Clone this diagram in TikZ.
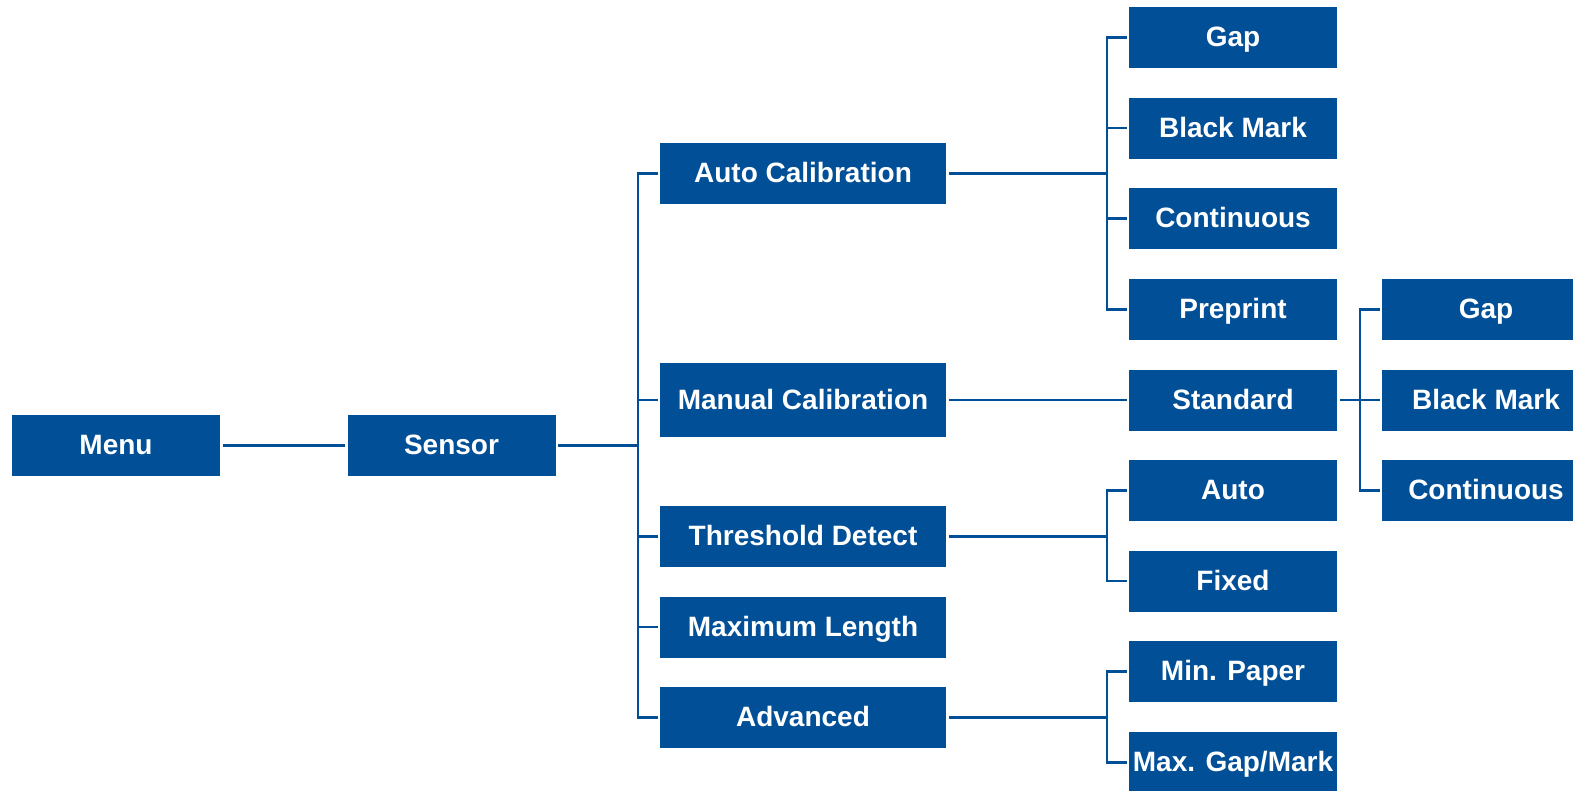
\documentclass[tikz,border=0pt]{standalone}
\usepackage{fontspec}
\setmainfont{Liberation Sans}
\definecolor{menublue}{RGB}{0,79,151}
\tikzset{
  box/.style={fill=menublue, text=white, minimum width=208, minimum height=61,
    inner sep=0pt, outer sep=2.5pt, text height=20pt, text depth=2pt,
    font=\bfseries\fontsize{28}{32}\selectfont},
  widebox/.style={box, minimum width=286},
  link/.style={draw=menublue, line width=2.4pt}
}
\begin{document}
\begin{tikzpicture}[x=1pt, y=-1pt]
        \path[use as bounding box, clip] (0,0) rectangle (1573,790);
        % first two levels
        \node[box] (menu) at (116,445.5) {Menu};
        \node[box] (sensor) at (451.5,445.5) {Sensor};
        % sensor menu
        \node[widebox] (autocal) at (803,173.5) {Auto Calibration};
        \node[widebox, minimum height=74] (manual) at (803,400) {Manual Calibration};
        \node[widebox] (threshold) at (803,536.5) {Threshold Detect};
        \node[widebox] (maxlen) at (803,627) {Maximum Length};
        \node[widebox] (advanced) at (803,717.5) {Advanced};
        % third level
        \node[box] (gap) at (1233,37.5) {Gap};
        \node[box] (black) at (1233,128) {Black Mark};
        \node[box] (cont) at (1233,218.5) {Continuous};
        \node[box] (preprint) at (1233,309.5) {Preprint};
        \node[box] (standard) at (1233,400) {Standard};
        \node[box] (auto) at (1233,490.5) {Auto};
        \node[box] (fixed) at (1233,581) {Fixed};
        \node[box] (minpaper) at (1233,671.5) {Min. Paper};
        \node[box] (maxgap) at (1233,762.5) {Max. Gap/Mark};
        % standard sensor types
        \node[box] (sgap) at (1486,309.5) {Gap};
        \node[box] (sblack) at (1486,400) {Black Mark};
        \node[box] (scont) at (1486,490.5) {Continuous};
        % buses
        \coordinate (busA) at (638,445.5);
        \coordinate (busB) at (1107,173.5);
        \coordinate (busC) at (1107,536.5);
        \coordinate (busD) at (1107,717.5);
        \coordinate (busE) at (1360,400);
        \draw[link] (menu) -- (sensor);
        \draw[link] (sensor) -- (busA);
        \draw[link] (autocal.west) -- (busA |- autocal) -- (busA |- advanced) -- (advanced.west);
        \foreach \n in {manual,threshold,maxlen}
            \draw[link] (busA |- \n) -- (\n.west);
        \draw[link] (autocal) -- (busB);
        \draw[link] (gap.west) -- (busB |- gap) -- (busB |- preprint) -- (preprint.west);
        \foreach \n in {black,cont}
            \draw[link] (busB |- \n) -- (\n.west);
        \draw[link] (manual) -- (standard);
        \draw[link] (standard) -- (sblack);
        \draw[link] (sgap.west) -- (busE |- sgap) -- (busE |- scont) -- (scont.west);
        \draw[link] (threshold) -- (busC);
        \draw[link] (auto.west) -- (busC |- auto) -- (busC |- fixed) -- (fixed.west);
        \draw[link] (advanced) -- (busD);
        \draw[link] (minpaper.west) -- (busD |- minpaper) -- (busD |- maxgap) -- (maxgap.west);
\end{tikzpicture}
\end{document}
